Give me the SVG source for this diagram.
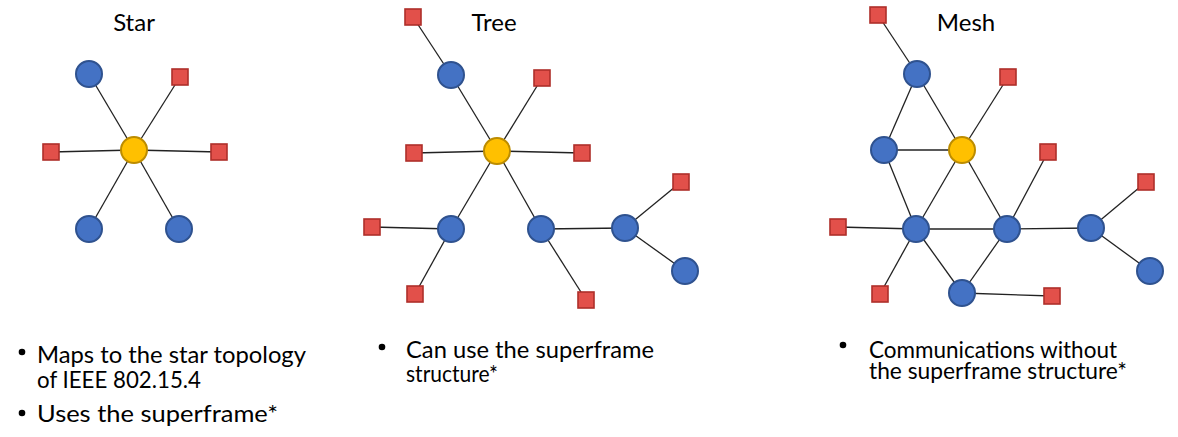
<svg xmlns="http://www.w3.org/2000/svg" width="1178" height="437" viewBox="0 0 1178 437">
<style>
.bg{fill:#ffffff}
.t{font-family:Lato,"Open Sans","Liberation Sans",sans-serif;fill:#000;}
.title{font-size:24px;text-anchor:middle}
.body{font-size:23px}
.c{fill:#4472C4;stroke:#2F528F;stroke-width:2}
.y{fill:#FFC000;stroke:#BC8C00;stroke-width:2}
.s{fill:#E2504A;stroke:#AE2F2A;stroke-width:1.6}
.e line{stroke:#222;stroke-width:1.3}
.b{fill:#000}
</style>
<rect class="bg" x="0" y="0" width="1178" height="437"/>

<text class="t title" x="134" y="31">Star</text>
<text class="t title" x="494" y="31">Tree</text>
<text class="t title" x="966" y="31">Mesh</text>

<g id="connectors" class="e">
  <!-- Star -->
  <line x1="134" y1="150" x2="89" y2="74"/>
  <line x1="134" y1="150" x2="180" y2="77"/>
  <line x1="134" y1="150" x2="51" y2="152"/>
  <line x1="134" y1="150" x2="219" y2="152"/>
  <line x1="134" y1="150" x2="89" y2="229"/>
  <line x1="134" y1="150" x2="179" y2="229"/>
  <!-- Tree -->
  <line x1="497" y1="151" x2="451" y2="75"/>
  <line x1="451" y1="75" x2="413" y2="17"/>
  <line x1="497" y1="151" x2="542" y2="78"/>
  <line x1="497" y1="151" x2="414" y2="153"/>
  <line x1="497" y1="151" x2="582" y2="153"/>
  <line x1="497" y1="151" x2="451" y2="229"/>
  <line x1="497" y1="151" x2="541" y2="229"/>
  <line x1="451" y1="229" x2="372" y2="227"/>
  <line x1="451" y1="229" x2="415" y2="294"/>
  <line x1="541" y1="229" x2="586" y2="300"/>
  <line x1="541" y1="229" x2="625" y2="228"/>
  <line x1="625" y1="228" x2="681" y2="182"/>
  <line x1="625" y1="228" x2="685" y2="271"/>
  <!-- Mesh -->
  <line x1="878" y1="15" x2="917" y2="74"/>
  <line x1="917" y1="74" x2="884" y2="150"/>
  <line x1="917" y1="74" x2="962" y2="150"/>
  <line x1="962" y1="150" x2="1008" y2="77"/>
  <line x1="884" y1="150" x2="962" y2="150"/>
  <line x1="884" y1="150" x2="916" y2="229"/>
  <line x1="962" y1="150" x2="916" y2="229"/>
  <line x1="962" y1="150" x2="1007" y2="229"/>
  <line x1="1007" y1="229" x2="1048" y2="152"/>
  <line x1="838" y1="227" x2="916" y2="229"/>
  <line x1="916" y1="229" x2="1007" y2="229"/>
  <line x1="1007" y1="229" x2="1091" y2="228"/>
  <line x1="1091" y1="228" x2="1146" y2="182"/>
  <line x1="1091" y1="228" x2="1150" y2="271"/>
  <line x1="916" y1="229" x2="880" y2="294"/>
  <line x1="916" y1="229" x2="962" y2="293"/>
  <line x1="962" y1="293" x2="1007" y2="229"/>
  <line x1="962" y1="293" x2="1052" y2="296"/>
</g>

<!-- Star nodes -->
<g id="star-coord"><circle class="y" cx="134" cy="150" r="13"/></g>
<g id="star-n1"><circle class="c" cx="89" cy="74" r="13"/></g>
<g id="star-n2"><rect class="s" x="172" y="69" width="16" height="16"/></g>
<g id="star-n3"><rect class="s" x="43" y="144" width="16" height="16"/></g>
<g id="star-n4"><rect class="s" x="211" y="144" width="16" height="16"/></g>
<g id="star-n5"><circle class="c" cx="89" cy="229" r="13"/></g>
<g id="star-n6"><circle class="c" cx="179" cy="229" r="13"/></g>

<!-- Tree nodes -->
<g id="tree-coord"><circle class="y" cx="497" cy="151" r="13"/></g>
<g id="tree-n1"><circle class="c" cx="451" cy="75" r="13"/></g>
<g id="tree-n2"><rect class="s" x="405" y="9" width="16" height="16"/></g>
<g id="tree-n3"><rect class="s" x="534" y="70" width="16" height="16"/></g>
<g id="tree-n4"><rect class="s" x="406" y="145" width="16" height="16"/></g>
<g id="tree-n5"><rect class="s" x="574" y="145" width="16" height="16"/></g>
<g id="tree-n6"><circle class="c" cx="451" cy="229" r="13"/></g>
<g id="tree-n7"><rect class="s" x="364" y="219" width="16" height="16"/></g>
<g id="tree-n8"><rect class="s" x="407" y="286" width="16" height="16"/></g>
<g id="tree-n9"><circle class="c" cx="541" cy="229" r="13"/></g>
<g id="tree-n10"><rect class="s" x="578" y="292" width="16" height="16"/></g>
<g id="tree-n11"><circle class="c" cx="625" cy="228" r="13"/></g>
<g id="tree-n12"><rect class="s" x="673" y="174" width="16" height="16"/></g>
<g id="tree-n13"><circle class="c" cx="685" cy="271" r="13"/></g>

<!-- Mesh nodes -->
<g id="mesh-coord"><circle class="y" cx="962" cy="150" r="13"/></g>
<g id="mesh-n1"><rect class="s" x="870" y="7" width="16" height="16"/></g>
<g id="mesh-n2"><circle class="c" cx="917" cy="74" r="13"/></g>
<g id="mesh-n3"><rect class="s" x="1000" y="69" width="16" height="16"/></g>
<g id="mesh-n4"><circle class="c" cx="884" cy="150" r="13"/></g>
<g id="mesh-n5"><rect class="s" x="1040" y="144" width="16" height="16"/></g>
<g id="mesh-n6"><rect class="s" x="1138" y="174" width="16" height="16"/></g>
<g id="mesh-n7"><rect class="s" x="830" y="219" width="16" height="16"/></g>
<g id="mesh-n8"><circle class="c" cx="916" cy="229" r="13"/></g>
<g id="mesh-n9"><circle class="c" cx="1007" cy="229" r="13"/></g>
<g id="mesh-n10"><circle class="c" cx="1091" cy="228" r="13"/></g>
<g id="mesh-n11"><circle class="c" cx="1150" cy="271" r="13"/></g>
<g id="mesh-n12"><rect class="s" x="872" y="286" width="16" height="16"/></g>
<g id="mesh-n13"><circle class="c" cx="962" cy="293" r="13"/></g>
<g id="mesh-n14"><rect class="s" x="1044" y="288" width="16" height="16"/></g>

<!-- Bullet text -->
<circle class="b" cx="22" cy="352" r="3.3"/>
<text class="t body" x="37" y="363" textLength="269" lengthAdjust="spacingAndGlyphs">Maps to the star topology</text>
<text class="t body" x="37" y="388" textLength="164" lengthAdjust="spacingAndGlyphs">of IEEE 802.15.4</text>
<circle class="b" cx="22" cy="413" r="3.3"/>
<text class="t body" x="37" y="422" textLength="241" lengthAdjust="spacingAndGlyphs">Uses the superframe*</text>

<circle class="b" cx="382" cy="347" r="3.3"/>
<text class="t body" x="406" y="358" textLength="248" lengthAdjust="spacingAndGlyphs">Can use the superframe</text>
<text class="t body" x="406" y="382" textLength="92" lengthAdjust="spacingAndGlyphs">structure*</text>

<circle class="b" cx="843" cy="345" r="3.3"/>
<text class="t body" x="869" y="358" textLength="248" lengthAdjust="spacingAndGlyphs">Communications without</text>
<text class="t body" x="869" y="379" textLength="258" lengthAdjust="spacingAndGlyphs">the superframe structure*</text>
</svg>
